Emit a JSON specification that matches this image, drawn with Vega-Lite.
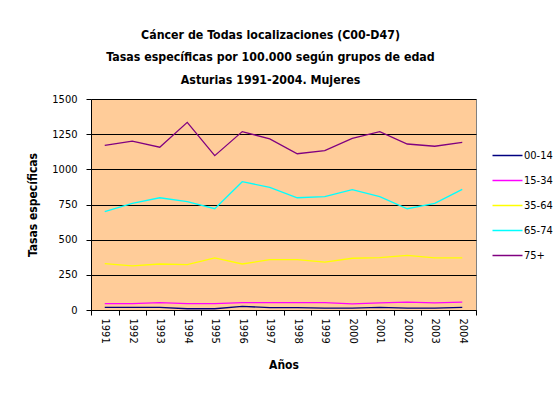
{
  "$schema": "https://vega.github.io/schema/vega-lite/v6.json",
  "autosize": {"type": "none"},
  "padding": {"left": 91, "top": 99, "right": 79, "bottom": 105},
  "width": 385,
  "height": 211,
  "background": "white",
  "title": {
    "text": ["Cáncer de Todas localizaciones (C00-D47)", "Tasas específicas por 100.000  según grupos de edad", "Asturias 1991-2004. Mujeres"],
    "font": "'DejaVu Sans Condensed', 'Liberation Sans', sans-serif",
    "fontSize": 12.3,
    "fontWeight": "bold",
    "color": "black",
    "lineHeight": 22.5,
    "anchor": "middle",
    "dx": -13,
    "offset": 7
  },
  "data": {"values": [
    {"year": "1991", "group": "00-14", "value": 19},
    {"year": "1992", "group": "00-14", "value": 18},
    {"year": "1993", "group": "00-14", "value": 18},
    {"year": "1994", "group": "00-14", "value": 9},
    {"year": "1995", "group": "00-14", "value": 9},
    {"year": "1996", "group": "00-14", "value": 26},
    {"year": "1997", "group": "00-14", "value": 17},
    {"year": "1998", "group": "00-14", "value": 17},
    {"year": "1999", "group": "00-14", "value": 13},
    {"year": "2000", "group": "00-14", "value": 13},
    {"year": "2001", "group": "00-14", "value": 18},
    {"year": "2002", "group": "00-14", "value": 13},
    {"year": "2003", "group": "00-14", "value": 13},
    {"year": "2004", "group": "00-14", "value": 19},
    {"year": "1991", "group": "15-34", "value": 45},
    {"year": "1992", "group": "15-34", "value": 45},
    {"year": "1993", "group": "15-34", "value": 53},
    {"year": "1994", "group": "15-34", "value": 45},
    {"year": "1995", "group": "15-34", "value": 45},
    {"year": "1996", "group": "15-34", "value": 52},
    {"year": "1997", "group": "15-34", "value": 52},
    {"year": "1998", "group": "15-34", "value": 52},
    {"year": "1999", "group": "15-34", "value": 52},
    {"year": "2000", "group": "15-34", "value": 43},
    {"year": "2001", "group": "15-34", "value": 50},
    {"year": "2002", "group": "15-34", "value": 56},
    {"year": "2003", "group": "15-34", "value": 50},
    {"year": "2004", "group": "15-34", "value": 56},
    {"year": "1991", "group": "35-64", "value": 329},
    {"year": "1992", "group": "35-64", "value": 313},
    {"year": "1993", "group": "35-64", "value": 327},
    {"year": "1994", "group": "35-64", "value": 322},
    {"year": "1995", "group": "35-64", "value": 370},
    {"year": "1996", "group": "35-64", "value": 327},
    {"year": "1997", "group": "35-64", "value": 358},
    {"year": "1998", "group": "35-64", "value": 358},
    {"year": "1999", "group": "35-64", "value": 341},
    {"year": "2000", "group": "35-64", "value": 368},
    {"year": "2001", "group": "35-64", "value": 372},
    {"year": "2002", "group": "35-64", "value": 389},
    {"year": "2003", "group": "35-64", "value": 370},
    {"year": "2004", "group": "35-64", "value": 370},
    {"year": "1991", "group": "65-74", "value": 699},
    {"year": "1992", "group": "65-74", "value": 758},
    {"year": "1993", "group": "65-74", "value": 798},
    {"year": "1994", "group": "65-74", "value": 770},
    {"year": "1995", "group": "65-74", "value": 720},
    {"year": "1996", "group": "65-74", "value": 912},
    {"year": "1997", "group": "65-74", "value": 872},
    {"year": "1998", "group": "65-74", "value": 798},
    {"year": "1999", "group": "65-74", "value": 806},
    {"year": "2000", "group": "65-74", "value": 855},
    {"year": "2001", "group": "65-74", "value": 806},
    {"year": "2002", "group": "65-74", "value": 720},
    {"year": "2003", "group": "65-74", "value": 758},
    {"year": "2004", "group": "65-74", "value": 858},
    {"year": "1991", "group": "75+", "value": 1171},
    {"year": "1992", "group": "75+", "value": 1201},
    {"year": "1993", "group": "75+", "value": 1157},
    {"year": "1994", "group": "75+", "value": 1334},
    {"year": "1995", "group": "75+", "value": 1097},
    {"year": "1996", "group": "75+", "value": 1268},
    {"year": "1997", "group": "75+", "value": 1216},
    {"year": "1998", "group": "75+", "value": 1111},
    {"year": "1999", "group": "75+", "value": 1133},
    {"year": "2000", "group": "75+", "value": 1220},
    {"year": "2001", "group": "75+", "value": 1268},
    {"year": "2002", "group": "75+", "value": 1180},
    {"year": "2003", "group": "75+", "value": 1164},
    {"year": "2004", "group": "75+", "value": 1192}
  ]},
  "mark": {"type": "line", "strokeWidth": 1.3},
  "encoding": {
    "x": {
      "field": "year",
      "type": "ordinal",
      "bandPosition": 0.5,
      "scale": {"type": "band", "paddingInner": 0, "paddingOuter": 0},
      "axis": {
        "title": "Años",
        "titleFont": "'DejaVu Sans Condensed', 'Liberation Sans', sans-serif",
        "titleFontSize": 12,
        "titleFontWeight": "bold",
        "titleColor": "black",
        "titlePadding": 16,
        "labelAngle": 90,
        "labelAlign": "left",
        "labelBaseline": "middle",
        "labelFont": "'DejaVu Sans Condensed', 'Liberation Sans', sans-serif",
        "labelFontSize": 11,
        "labelColor": "black",
        "labelPadding": 3,
        "tickBand": "extent",
        "tickSize": 5,
        "tickColor": "black",
        "domainColor": "black",
        "grid": false
      }
    },
    "y": {
      "field": "value",
      "type": "quantitative",
      "scale": {"domain": [0, 1500], "nice": false},
      "axis": {
        "title": "Tasas específicas",
        "titleFont": "'DejaVu Sans Condensed', 'Liberation Sans', sans-serif",
        "titleFontSize": 12,
        "titleFontWeight": "bold",
        "titleColor": "black",
        "titlePadding": 12,
        "values": [0, 250, 500, 750, 1000, 1250, 1500],
        "format": "d",
        "labelFont": "'DejaVu Sans Condensed', 'Liberation Sans', sans-serif",
        "labelFontSize": 11,
        "labelColor": "black",
        "labelPadding": 9,
        "tickSize": 5,
        "tickColor": "black",
        "domainColor": "black",
        "grid": true,
        "gridColor": "black",
        "gridOpacity": 1,
        "gridWidth": 1
      }
    },
    "color": {
      "field": "group",
      "type": "nominal",
      "scale": {
        "domain": ["00-14", "15-34", "35-64", "65-74", "75+"],
        "range": ["#000080", "#FF00FF", "#FFFF00", "#00FFFF", "#800080"]
      },
      "legend": {
        "title": null,
        "orient": "none",
        "legendX": 403,
        "legendY": 43,
        "symbolType": "M-1.2,0H1.2",
        "symbolSize": 625,
        "symbolStrokeWidth": 1.5,
        "labelFont": "'DejaVu Sans Condensed', 'Liberation Sans', sans-serif",
        "labelFontSize": 11,
        "labelColor": "black",
        "labelOffset": 3,
        "rowPadding": 6
      }
    }
  },
  "config": {
    "view": {"fill": "#FFCC99", "stroke": "#808080", "strokeWidth": 1}
  }
}
